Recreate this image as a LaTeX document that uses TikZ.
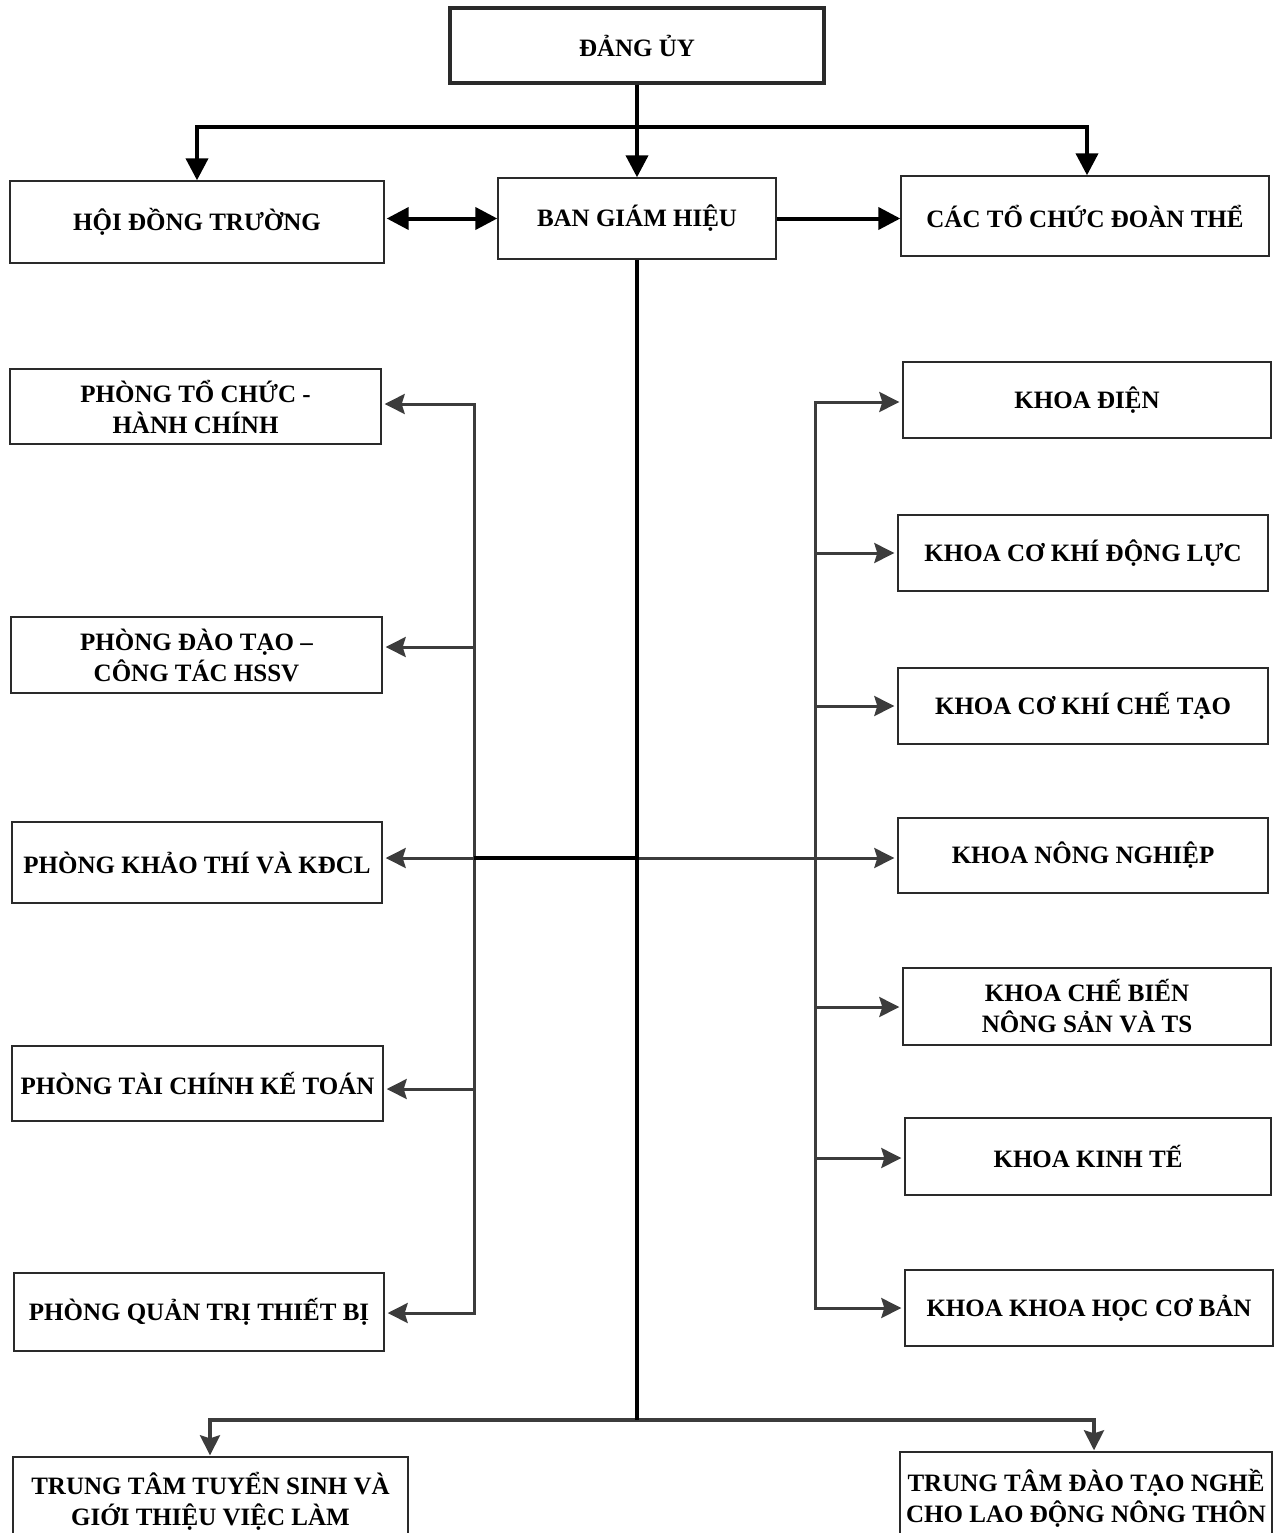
\documentclass[tikz,border=0pt]{standalone}
\usepackage{fontspec}
\setmainfont{Liberation Serif}
\usetikzlibrary{arrows.meta}
\definecolor{ink}{HTML}{2A2A2A}
\definecolor{busgray}{HTML}{3C3C3C}
\tikzset{
  box/.style={draw=ink, line width=1.4pt, fill=white, inner sep=0pt, align=center,
    font=\fontsize{25}{31}\selectfont\bfseries, text=black},
  mainline/.style={line width=4pt, black},
  mainarrow/.style={mainline, -{Triangle[length=22pt 0 0,width=22pt 0 0]}},
  bus/.style={line width=3pt, busgray},
  bustip/.tip={Stealth[length=20pt 0 0,width=20pt 0 0,inset=3pt 0 0,fill=busgray]},
  busarrow/.style={bus, -bustip, shorten >=3pt},
}
\begin{document}
\begin{tikzpicture}[x=1pt,y=-1pt]
\useasboundingbox (0,0) rectangle (1287,1533);
\clip (0,0) rectangle (1287,1533);
\fill[white] (0,0) rectangle (1287,1533);

% top level
\node[box, line width=3.5pt, minimum width=374pt, minimum height=75pt] (dang) at (637,45.5) {ĐẢNG ỦY};
\node[box, minimum width=374pt, minimum height=82pt] (hdt) at (197,222) {HỘI ĐỒNG TRƯỜNG};
\node[box, minimum width=278pt, minimum height=81pt] (bgh) at (637,218.5) {BAN GIÁM HIỆU};
\node[box, minimum width=368pt, minimum height=80pt] (ctc) at (1085,216) {CÁC TỔ CHỨC ĐOÀN THỂ};

% left column
\node[box, minimum width=371pt, minimum height=75pt] (p1) at (195.5,406.5) {PHÒNG TỔ CHỨC -\\HÀNH CHÍNH};
\node[box, minimum width=371pt, minimum height=76pt] (p2) at (196.5,655) {PHÒNG ĐÀO TẠO –\\CÔNG TÁC HSSV};
\node[box, minimum width=370pt, minimum height=81pt] (p3) at (197,862.5) {PHÒNG KHẢO THÍ VÀ KĐCL};
\node[box, minimum width=371pt, minimum height=75pt] (p4) at (197.5,1083.5) {PHÒNG TÀI CHÍNH KẾ TOÁN};
\node[box, minimum width=370pt, minimum height=78pt] (p5) at (199,1312) {PHÒNG QUẢN TRỊ THIẾT BỊ};

% right column
\node[box, minimum width=368pt, minimum height=76pt] (k1) at (1087,400) {KHOA ĐIỆN};
\node[box, minimum width=370pt, minimum height=76pt] (k2) at (1083,553) {KHOA CƠ KHÍ ĐỘNG LỰC};
\node[box, minimum width=370pt, minimum height=76pt] (k3) at (1083,706) {KHOA CƠ KHÍ CHẾ TẠO};
\node[box, minimum width=370pt, minimum height=75pt] (k4) at (1083,855.5) {KHOA NÔNG NGHIỆP};
\node[box, minimum width=368pt, minimum height=77pt] (k5) at (1087,1006.5) {KHOA CHẾ BIẾN\\NÔNG SẢN VÀ TS};
\node[box, minimum width=366pt, minimum height=77pt] (k6) at (1088,1156.5) {KHOA KINH TẾ};
\node[box, minimum width=368pt, minimum height=76pt] (k7) at (1089,1308) {KHOA KHOA HỌC CƠ BẢN};

% bottom (cut by the page edge)
\node[box, minimum width=395pt, minimum height=88pt] (t1) at (210.5,1501) {TRUNG TÂM TUYỂN SINH VÀ\\GIỚI THIỆU VIỆC LÀM};
\node[box, minimum width=372pt, minimum height=93pt] (t2) at (1086,1498.5) {TRUNG TÂM ĐÀO TẠO NGHỀ\\CHO LAO ĐỘNG NÔNG THÔN};

% coordinates
\coordinate (tj) at (637,127);
\coordinate (tr) at (1087,127);
\coordinate (bj) at (637,1420);
\coordinate (bl) at (210,1420);
\coordinate (br) at (1094,1420);
\coordinate (cm) at (637,858);
\coordinate (L1) at (474,404);
\coordinate (L2) at (474,647);
\coordinate (L4) at (474,1089);
\coordinate (L5) at (474,1313);
\coordinate (R1) at (815,402);
\coordinate (R2) at (815,553);
\coordinate (R3) at (815,706);
\coordinate (R5) at (815,1007);
\coordinate (R6) at (815,1158);
\coordinate (R7) at (815,1308);

% top connectors
\draw[mainarrow] (dang.south) -- (bgh.north);
\draw[mainarrow] (tj) -| (hdt.north);
\draw[mainarrow] (tj) -- (tr) -- (tr |- ctc.north);
\draw[mainline, {Triangle[length=22pt 0 0,width=22pt 0 0]}-{Triangle[length=22pt 0 0,width=22pt 0 0]}, shorten <=2pt]
  (bgh.west -| hdt.east) -- (bgh.west);
\draw[mainarrow] (bgh.east) -- (bgh.east -| ctc.west);

% left bus
\draw[busarrow] (L5) -- (L1) -- (L1 -| p1.east);
\draw[busarrow] (L1) -- (L5) -- (L5 -| p5.east);
\draw[busarrow] (L2) -- (L2 -| p2.east);
\draw[busarrow] (cm) -- (cm -| p3.east);
\draw[busarrow] (L4) -- (L4 -| p4.east);
\draw[mainline] (cm) -- (cm -| L1);

% right bus
\draw[busarrow] (R7) -- (R1) -- (R1 -| k1.west);
\draw[busarrow] (R1) -- (R7) -- (R7 -| k7.west);
\draw[busarrow] (R2) -- (R2 -| k2.west);
\draw[busarrow] (R3) -- (R3 -| k3.west);
\draw[busarrow] (cm) -- (cm -| k4.west);
\draw[busarrow] (R5) -- (R5 -| k5.west);
\draw[busarrow] (R6) -- (R6 -| k6.west);

% bottom branch
\draw[busarrow, line width=3.5pt, shorten >=1pt] (bj) -- (bl) -- (bl |- t1.north);
\draw[busarrow, line width=3.5pt, shorten >=1pt] (bj) -- (br) -- (br |- t2.north);

% main spine
\draw[mainline] (bgh.south) -- (bj);
\end{tikzpicture}
\end{document}
